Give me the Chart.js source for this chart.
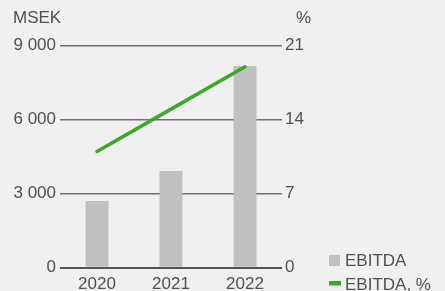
<!DOCTYPE html>
<html>
<head>
<meta charset="utf-8">
<script src="https://cdn.jsdelivr.net/npm/chart.js@4"></script>
<style>
html,body{margin:0;padding:0;background:#f0f0f0;}
#wrap{position:relative;width:445px;height:291px;}
canvas{display:block;}
</style>
</head>
<body>
<div id="wrap"><canvas id="c" width="445" height="291"></canvas></div>
<script>
const categories = ["2020", "2021", "2022"];
const ebitdaValues = [2705, 3920, 8175];
const ebitdaPctValues = [11.0, 15.0, 19.0];
const leftTicks = [0, 3000, 6000, 9000];
const rightTicks = [0, 7, 14, 21];
const leftAxisTitle = "MSEK";
const rightAxisTitle = "%";
const seriesNames = ["EBITDA", "EBITDA, %"];

const FONT = "'Liberation Sans', Arial, sans-serif";
const TEXT = "#505050";
const BAR = "#c0c0c0";
const GREEN = "#3fa52c";

function fmt(v){ return String(v).replace(/\B(?=(\d{3})+(?!\d))/g, " "); }

const extras = {
  id: "extras",
  afterDraw(chart){
    const ctx = chart.ctx;
    ctx.save();
    ctx.font = "17px " + FONT;
    ctx.fillStyle = TEXT;
    ctx.textBaseline = "middle";
    ctx.textAlign = "left";
    ctx.fillText(leftAxisTitle, 13, 18);
    ctx.fillText(rightAxisTitle, 296, 18);
    const lx = 329;
    ctx.fillStyle = BAR;
    ctx.fillRect(lx, 255, 11, 11);
    ctx.fillStyle = GREEN;
    ctx.fillRect(lx, 281, 12, 4.5);
    ctx.fillStyle = TEXT;
    ctx.textBaseline = "alphabetic";
    ctx.fillText(seriesNames[0], 345, 266);
    ctx.fillText(seriesNames[1], 345, 290);
    ctx.restore();
  }
};

new Chart(document.getElementById("c"), {
  data: {
    labels: categories,
    datasets: [
      {
        type: "line",
        label: seriesNames[1],
        data: ebitdaPctValues,
        yAxisID: "y1",
        borderColor: GREEN,
        backgroundColor: GREEN,
        borderWidth: 3.5,
        borderCapStyle: "round",
        pointRadius: 0,
        tension: 0,
        order: 0
      },
      {
        type: "bar",
        label: seriesNames[0],
        data: ebitdaValues,
        yAxisID: "y",
        backgroundColor: BAR,
        borderWidth: 0,
        categoryPercentage: 1.0,
        barPercentage: 0.31,
        order: 1
      }
    ]
  },
  plugins: [extras],
  options: {
    responsive: false,
    animation: false,
    events: [],
    layout: { padding: { top: 45.7, bottom: 0, left: 0, right: 0 } },
    plugins: { legend: { display: false }, tooltip: { enabled: false } },
    scales: {
      x: {
        offset: true,
        grid: { display: false, drawTicks: false },
        border: { display: false },
        ticks: { color: TEXT, font: { family: FONT, size: 17 }, padding: 6, maxRotation: 0 },
        afterFit(s){ s.height = 291 - 267.7; }
      },
      y: {
        position: "left",
        min: 0, max: 9000,
        afterBuildTicks(s){ s.ticks = leftTicks.map(v => ({ value: v })); },
        grid: {
          drawTicks: false,
          color: c => c.tick && c.tick.value === 0 ? "#555555" : "#707070",
          lineWidth: c => c.tick && c.tick.value === 0 ? 2 : 1.5
        },
        border: { display: false },
        ticks: {
          color: TEXT, font: { family: FONT, size: 17 }, padding: 4,
          callback: v => fmt(v)
        },
        afterFit(s){ s.width = 60; }
      },
      y1: {
        position: "right",
        min: 0, max: 21,
        afterBuildTicks(s){ s.ticks = rightTicks.map(v => ({ value: v })); },
        grid: { display: false, drawTicks: false },
        border: { display: false },
        ticks: { color: TEXT, font: { family: FONT, size: 17 }, padding: 3 },
        afterFit(s){ s.width = 445 - 282; }
      }
    }
  }
});
</script>
</body>
</html>
